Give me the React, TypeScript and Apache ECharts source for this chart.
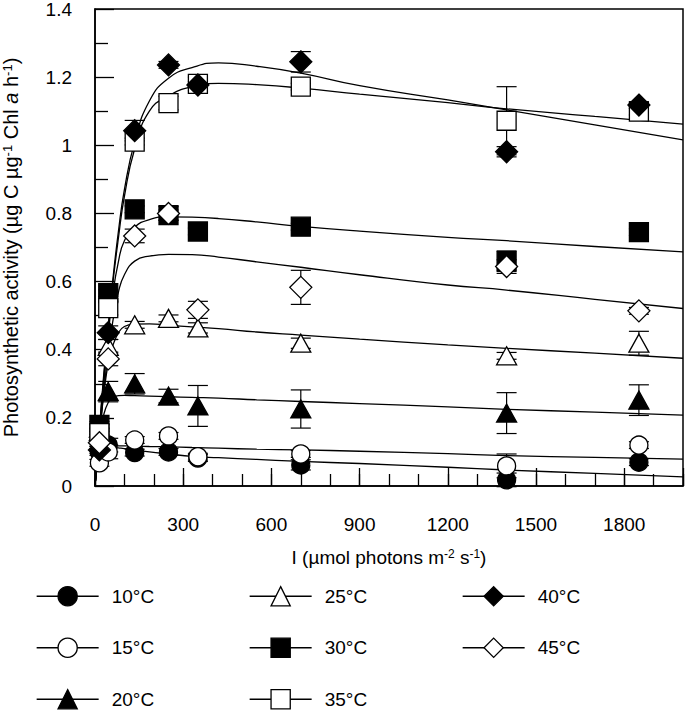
import React, { useEffect, useRef } from "react";
import * as echarts from "echarts";

// Light levels (µmol photons m-2 s-1) of the measured points
const lightI = [15, 45, 135, 250, 350, 700, 1400, 1850];
const temps = ["10°C", "15°C", "20°C", "25°C", "30°C", "35°C", "40°C", "45°C"];

// Measured photosynthetic activity
const p10 = [0.1, 0.12, 0.098, 0.1, 0.082, 0.062, 0.018, 0.07];
const p15 = [0.068, 0.1, 0.135, 0.147, 0.086, 0.094, 0.059, 0.12];
const p20 = [0.17, 0.277, 0.3, 0.264, 0.235, 0.226, 0.214, 0.252];
const p25 = [0.16, 0.41, 0.473, 0.492, 0.464, 0.419, 0.382, 0.419];
const p30 = [0.179, 0.566, 0.812, 0.795, 0.747, 0.761, 0.66, 0.745];
const p35 = [0.155, 0.522, 1.011, 1.124, 1.18, 1.172, 1.072, 1.099];
const p40 = [0.106, 0.45, 1.043, 1.236, 1.177, 1.245, 0.981, 1.118];
const p45 = [0.127, 0.373, 0.734, 0.8, 0.517, 0.583, 0.644, 0.514];

// Error bar half-widths
const e10 = [0.01, 0.02, 0.01, 0.01, 0.01, 0.015, 0.02, 0.01];
const e15 = [0.01, 0.02, 0.01, 0.01, 0.01, 0.01, 0.035, 0.01];
const e20 = [0.01, 0.03, 0.03, 0.02, 0.06, 0.056, 0.06, 0.045];
const e25 = [0.01, 0.02, 0.01, 0.01, 0.015, 0.015, 0.01, 0.035];
const e30 = [0.01, 0.01, 0.01, 0.015, 0.01, 0.01, 0.03, 0.01];
const e35 = [0.01, 0.02, 0.01, 0.02, 0.02, 0.01, 0.1, 0.01];
const e40 = [0.01, 0.02, 0.03, 0.01, 0.01, 0.03, 0.015, 0.01];
const e45 = [0.01, 0.02, 0.02, 0.02, 0.025, 0.05, 0.02, 0.01];

// Fitted curves at these light levels
const curveI = [0, 10, 20, 30, 45, 60, 80, 100, 135, 185, 250, 330, 420, 550, 700, 900, 1200, 1400, 1700, 2000];
const f10 = [0, 0.08, 0.105, 0.113, 0.115, 0.114, 0.112, 0.11, 0.106, 0.1, 0.094, 0.087, 0.083, 0.078, 0.072, 0.066, 0.055, 0.047, 0.037, 0.027];
const f15 = [0, 0.07, 0.1, 0.112, 0.117, 0.118, 0.118, 0.118, 0.117, 0.116, 0.115, 0.113, 0.111, 0.108, 0.106, 0.102, 0.095, 0.089, 0.084, 0.079];
const f20 = [0, 0.09, 0.16, 0.21, 0.245, 0.26, 0.265, 0.266, 0.265, 0.264, 0.262, 0.26, 0.258, 0.253, 0.248, 0.242, 0.232, 0.225, 0.217, 0.208];
const f25 = [0, 0.1, 0.19, 0.27, 0.36, 0.41, 0.45, 0.468, 0.475, 0.476, 0.472, 0.467, 0.462, 0.452, 0.443, 0.431, 0.414, 0.404, 0.39, 0.375];
const f30 = [0, 0.1, 0.2, 0.3, 0.44, 0.56, 0.66, 0.72, 0.76, 0.782, 0.79, 0.789, 0.785, 0.775, 0.762, 0.748, 0.73, 0.72, 0.703, 0.687];
const f35 = [0, 0.11, 0.22, 0.32, 0.46, 0.59, 0.73, 0.85, 0.99, 1.1, 1.145, 1.172, 1.182, 1.178, 1.168, 1.15, 1.125, 1.107, 1.085, 1.062];
const f40 = [0, 0.11, 0.22, 0.33, 0.47, 0.6, 0.75, 0.87, 1.01, 1.13, 1.197, 1.228, 1.242, 1.232, 1.212, 1.175, 1.133, 1.104, 1.06, 1.016];
const f45 = [0, 0.1, 0.19, 0.28, 0.39, 0.48, 0.57, 0.62, 0.66, 0.675, 0.68, 0.679, 0.672, 0.658, 0.642, 0.62, 0.59, 0.575, 0.548, 0.521];

const xTicks = [0, 300, 600, 900, 1200, 1500, 1800];

const points = [p10, p15, p20, p25, p30, p35, p40, p45];
const errors = [e10, e15, e20, e25, e30, e35, e40, e45];
const fits = [f10, f15, f20, f25, f30, f35, f40, f45];

const FONT = 'Arial, "Liberation Sans", sans-serif';
const markers = [
  { symbol: "circle", fill: "#000", size: 18 },
  { symbol: "circle", fill: "#fff", size: 18 },
  { symbol: "triangle", fill: "#000", size: [20, 18] },
  { symbol: "triangle", fill: "#fff", size: [20, 18] },
  { symbol: "rect", fill: "#000", size: 19 },
  { symbol: "rect", fill: "#fff", size: 19 },
  { symbol: "diamond", fill: "#000", size: 22 },
  { symbol: "diamond", fill: "#fff", size: 22 },
];

export default function App() {
  const ref = useRef<HTMLDivElement>(null);
  useEffect(() => {
    if (!ref.current) return;
    const chart = echarts.init(ref.current, null, { renderer: "svg" });
    const series: any[] = [];
    temps.forEach((name, k) => {
      series.push({
        type: "line",
        name: name + " fit",
        xAxisIndex: 0,
        yAxisIndex: 0,
        data: curveI.map((x, i) => [x, fits[k][i]]),
        showSymbol: false,
        symbol: "none",
        smooth: 0.5,
        lineStyle: { color: "#000", width: 1.3 },
        silent: true,
        z: 2,
      });
    });
    temps.forEach((name, k) => {
      series.push({
        type: "custom",
        name: name + " err",
        xAxisIndex: 0,
        yAxisIndex: 0,
        clip: false,
        silent: true,
        z: 3,
        data: lightI.map((x, i) => [x, points[k][i], errors[k][i]]),
        encode: { x: 0, y: 1 },
        renderItem: (params: any, api: any) => {
          const x = api.value(0);
          const y = api.value(1);
          const e = api.value(2);
          const t = api.coord([x, y + e]);
          const b = api.coord([x, y - e]);
          const hw = 10;
          const st = { stroke: "#000", lineWidth: 1.2 };
          return {
            type: "group",
            children: [
              { type: "line", shape: { x1: t[0], y1: t[1], x2: b[0], y2: b[1] }, style: st },
              { type: "line", shape: { x1: t[0] - hw, y1: t[1], x2: t[0] + hw, y2: t[1] }, style: st },
              { type: "line", shape: { x1: b[0] - hw, y1: b[1], x2: b[0] + hw, y2: b[1] }, style: st },
            ],
          };
        },
      });
    });
    temps.forEach((name, k) => {
      const m = markers[k];
      series.push({
        type: "line",
        name,
        xAxisIndex: 0,
        yAxisIndex: 0,
        data: lightI.map((x, i) => [x, points[k][i]]),
        symbol: m.symbol,
        symbolSize: m.size,
        showSymbol: true,
        showAllSymbol: true,
        itemStyle: { color: m.fill, borderColor: "#000", borderWidth: 1.3, opacity: 1 },
        lineStyle: { width: 0, opacity: 0, color: "#000" },
        emphasis: { disabled: true },
        silent: true,
        z: 4 + k * 0.01,
      });
    });

    const legendCommon = {
      orient: "vertical",
      itemWidth: 62,
      itemHeight: 24,
      itemGap: 31,
      padding: 0,
      selectedMode: false,
      formatter: (name: string) => "{t|" + name + "}",
      textStyle: {
        fontSize: 19,
        color: "#000",
        fontFamily: FONT,
        rich: { t: { fontSize: 19, color: "#000", fontFamily: FONT, padding: [0, 0, 0, 8] } },
      },
      lineStyle: { color: "#000", width: 1.3, opacity: 1 },
      itemStyle: { borderColor: "#000", borderWidth: 1.3 },
    };

    const tickStyle = { color: "#000", width: 1.3 };
    const gridBox = { left: 95, top: 9, width: 588, height: 477, outerBoundsMode: "none", containLabel: false };

    chart.setOption({
      animation: false,
      backgroundColor: "#fff",
      grid: [
        { ...gridBox, show: true, borderColor: "#000", borderWidth: 1.5, backgroundColor: "transparent" },
        { ...gridBox, show: false },
      ],
      legend: [
        { ...legendCommon, data: temps.slice(0, 3), left: 36, top: 586 },
        { ...legendCommon, data: temps.slice(3, 6), left: 249, top: 586 },
        { ...legendCommon, data: temps.slice(6, 8), left: 462, top: 586 },
      ],
      xAxis: [
        {
          gridIndex: 0,
          type: "value",
          min: 0,
          max: 2000,
          interval: 300,
          axisLine: { show: true, lineStyle: { color: "#000", width: 1.5 } },
          axisTick: { inside: true, length: 18, lineStyle: tickStyle },
          axisLabel: {
            margin: 29,
            fontSize: 19,
            color: "#000",
            fontFamily: FONT,
            formatter: (v: number) => (xTicks.indexOf(v) >= 0 ? String(v) : ""),
          },
          splitLine: { show: false },
          name: "I (µmol photons m{sup|-2} s{sup|-1})",
          nameLocation: "middle",
          nameGap: 62,
          nameTextStyle: {
            fontSize: 19,
            color: "#000",
            fontFamily: FONT,
            rich: { sup: { fontSize: 12, verticalAlign: "top", color: "#000", fontFamily: FONT } },
          },
        },
        {
          gridIndex: 1,
          type: "value",
          min: 0,
          max: 2000,
          interval: 100,
          axisLine: { show: false },
          axisTick: { inside: true, length: 12, lineStyle: tickStyle },
          axisLabel: { show: false },
          splitLine: { show: false },
        },
      ],
      yAxis: [
        {
          gridIndex: 0,
          type: "value",
          min: 0,
          max: 1.4,
          interval: 0.2,
          axisLine: { show: true, lineStyle: { color: "#000", width: 1.5 } },
          axisTick: { inside: true, length: 19, lineStyle: tickStyle },
          minorTick: { show: true, splitNumber: 2, length: 13, lineStyle: tickStyle },
          axisLabel: { margin: 23, fontSize: 19, color: "#000", fontFamily: FONT },
          splitLine: { show: false },
          name: "Photosynthetic activity (µg C µg{sup|-1} Chl {it|a} h{sup|-1})",
          nameLocation: "middle",
          nameRotate: 90,
          nameGap: 74,
          nameTextStyle: {
            fontSize: 20,
            color: "#000",
            fontFamily: FONT,
            rich: {
              sup: { fontSize: 13, verticalAlign: "top", color: "#000", fontFamily: FONT },
              it: { fontSize: 20, fontStyle: "italic", color: "#000", fontFamily: FONT },
            },
          },
        },
        { gridIndex: 1, type: "value", min: 0, max: 1.4, show: false },
      ],
      series,
    });
    return () => chart.dispose();
  }, []);
  return (
    <div
      ref={ref}
      style={{ position: "fixed", left: 0, top: 0, width: 685, height: 710, background: "#fff" }}
    />
  );
}
